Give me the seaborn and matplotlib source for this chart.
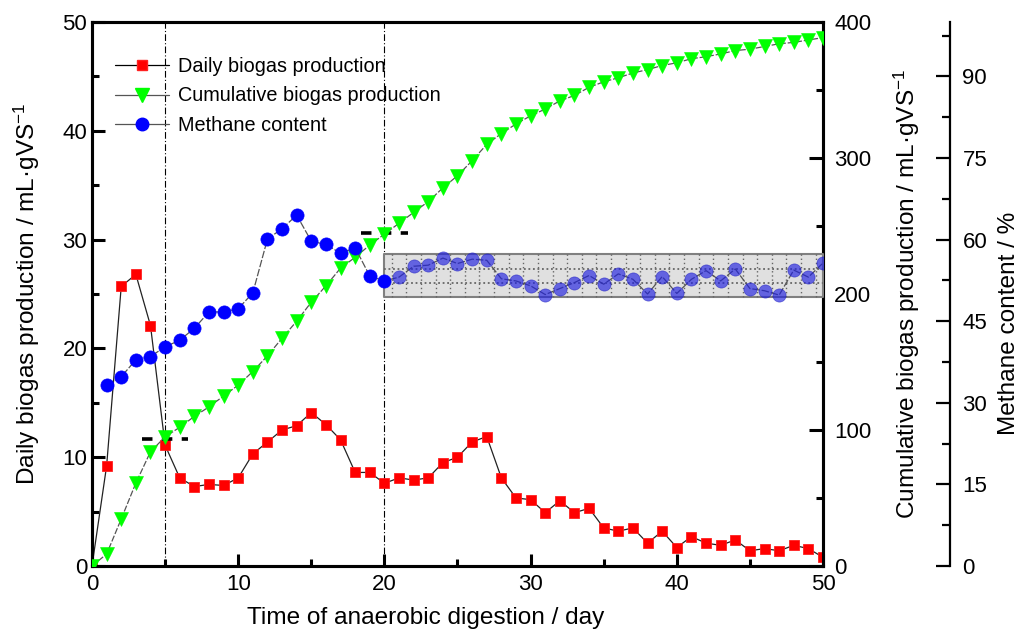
import numpy as np
import pandas as pd
import matplotlib
matplotlib.use("Agg")
import matplotlib.pyplot as plt
from matplotlib.lines import Line2D
from matplotlib.ticker import MultipleLocator, FixedLocator
import seaborn as sns

# ---------------- data ----------------
days = list(range(0, 51))
daily = [0, 9.2, 25.7, 26.8, 22.1, 11.1, 8.1, 7.3, 7.5, 7.4,
         8.1, 10.3, 11.4, 12.5, 12.9, 14.1, 13.0, 11.6, 8.6, 8.6,
         7.6, 8.1, 7.9, 8.1, 9.5, 10.0, 11.4, 11.9, 8.1, 6.25,
         6.1, 4.9, 6.0, 4.9, 5.3, 3.5, 3.2, 3.5, 2.1, 3.2,
         1.7, 2.7, 2.1, 1.9, 2.4, 1.4, 1.6, 1.4, 1.9, 1.6, 0.8]
cumulative = [0, 8.8, 34.6, 61, 84, 95, 102, 110, 117, 125,
              133, 143, 154.5, 167.5, 180, 194, 206, 219, 227, 236,
              244, 252, 260, 268, 278, 287, 298, 310, 318, 325,
              331, 336, 342, 346, 352, 356, 359, 362.5, 365, 368,
              370, 373, 374.5, 376.5, 379, 380, 382, 384, 385, 386.8, 388.5]
methane_days = list(range(1, 51))
methane = [33.3, 34.8, 37.9, 38.5, 40.3, 41.5, 43.7, 46.7, 46.7, 47.3,
           50.2, 60.1, 62.0, 64.5, 59.7, 59.1, 57.5, 58.5, 53.3, 52.4,
           53.1, 55.1, 55.3, 56.6, 55.6, 56.4, 56.2, 52.8, 52.4, 51.5,
           49.9, 51.0, 52.1, 53.4, 51.8, 53.7, 52.7, 50.0, 53.2, 50.1,
           52.7, 54.3, 52.4, 54.6, 51.0, 50.6, 49.8, 54.4, 53.1, 55.7]
stable_start, stable_end = 20, 50
band_low, band_high = 49.4, 57.3
phase_days = [5, 20]
phase_marks = [11.7, 30.6]

series_names = ["Daily biogas production", "Cumulative biogas production", "Methane content"]

df_daily = pd.DataFrame({"day": days, "value": daily})
df_cum = pd.DataFrame({"day": days, "value": cumulative})
df_meth = pd.DataFrame({"day": methane_days, "value": methane})
df_meth_a = df_meth[df_meth["day"] <= stable_start]
df_meth_b = df_meth[df_meth["day"] > stable_start]

# ---------------- style ----------------
sns.set_style("ticks")
plt.rcParams["font.family"] = ["Liberation Sans", "DejaVu Sans"]
plt.rcParams["axes.linewidth"] = 2.2
plt.rcParams["mathtext.default"] = "regular"
plt.rcParams["text.color"] = "black"
plt.rcParams["axes.labelcolor"] = "black"
plt.rcParams["xtick.color"] = "black"
plt.rcParams["ytick.color"] = "black"
plt.rcParams["axes.edgecolor"] = "black"

fig = plt.figure(figsize=(10.2, 6.3), dpi=100)
ax = fig.add_axes([92 / 1020, 1 - 566 / 630, 731 / 1020, 544 / 630])
ax2 = ax.twinx()
ax3 = ax.twinx()

TICK_FS = 16
LABEL_FS = 17.6

# phase lines
for d in phase_days:
    ax.axvline(d, color="black", lw=0.8, ls=(0, (6, 2, 1, 2)), zorder=1)

# daily
sns.lineplot(data=df_daily, x="day", y="value", ax=ax, color="#222222", lw=0.9,
             marker="s", markersize=7.5, markerfacecolor="#ff0000",
             markeredgecolor="#ff2020", markeredgewidth=0.6, zorder=3)
for d, m in zip(phase_days, phase_marks):
    ax.hlines(m, d - 1.6, d + 1.6, color="black", lw=2.6, linestyles=(0, (2.9, 2.6)), zorder=5)

# cumulative
sns.lineplot(data=df_cum, x="day", y="value", ax=ax2, color="#555555", lw=0.9,
             ls=(0, (5, 1.5)), marker="v", markersize=9.5, markerfacecolor="#00ff00",
             markeredgecolor="#00ff00", markeredgewidth=0.4, zorder=3)

# stable band
ax3.fill_between([stable_start, stable_end], band_low, band_high,
                 facecolor="#e0e0e0", edgecolor="#808080", lw=1.5, zorder=1)
grid_x = np.arange(stable_start + 0.5, stable_end, 1.0)
ax3.vlines(grid_x, band_low, band_high, colors="#666666", lw=1.0,
           linestyles=(0, (1, 2)), zorder=1.5)
thirds = [band_low + (band_high - band_low) * k / 3 for k in (1, 2)]
ax3.hlines(thirds, stable_start, stable_end, colors="#666666", lw=1.3,
           linestyles=(0, (1, 1.5)), zorder=1.5)

# methane
sns.lineplot(data=df_meth, x="day", y="value", ax=ax3, color="#555555", lw=0.9,
             ls=(0, (6, 1.5)), zorder=3)
sns.scatterplot(data=df_meth_a, x="day", y="value", ax=ax3, color="#0000ff",
                s=90, marker="o", edgecolor="#0000ff", linewidth=0.5, zorder=4)
sns.scatterplot(data=df_meth_b, x="day", y="value", ax=ax3, color="#2020e0",
                s=90, marker="o", alpha=0.65, edgecolor="#2020c0", linewidth=0.5, zorder=4)

# ---------------- axes ----------------
ax.set_xlim(0, 50)
ax.set_ylim(0, 50)
ax2.set_ylim(0, 400)
ax3.set_ylim(0, 100)

ax.xaxis.set_major_locator(MultipleLocator(10))
ax.xaxis.set_minor_locator(MultipleLocator(5))
ax.yaxis.set_major_locator(MultipleLocator(10))
ax.yaxis.set_minor_locator(MultipleLocator(5))
ax.tick_params(axis="both", which="major", direction="in", length=9, width=2.2,
               labelsize=TICK_FS, top=False, right=False)
ax.tick_params(axis="both", which="minor", direction="in", length=5, width=2.2,
               top=False, right=False)
ax.tick_params(axis="x", pad=6)

ax2.yaxis.set_major_locator(MultipleLocator(100))
ax2.yaxis.set_minor_locator(MultipleLocator(50))
ax2.tick_params(axis="y", which="major", direction="in", length=10, width=2.2,
                labelsize=TICK_FS, pad=8)
ax2.tick_params(axis="y", which="minor", direction="in", length=5, width=2.2)

ax3.spines["right"].set_position(("axes", (950 - 92) / 731))
ax3.spines["right"].set_linewidth(1.6)
for s in ("left", "top", "bottom"):
    ax3.spines[s].set_visible(False)
ax3.yaxis.set_major_locator(FixedLocator(np.arange(0, 91, 15)))
ax3.yaxis.set_minor_locator(FixedLocator(np.arange(7.5, 100, 15)))
ax3.tick_params(axis="y", which="major", direction="in", length=10, width=1.6,
                labelsize=TICK_FS, pad=9)
ax3.tick_params(axis="y", which="minor", direction="in", length=6, width=1.6)

for a in (ax, ax2, ax3):
    a.set_xlabel("")
    a.set_ylabel("")

ax.set_xlabel("Time of anaerobic digestion / day", fontsize=LABEL_FS)
ax.xaxis.set_label_coords((426 - 92) / 731, -0.076)
ax.set_ylabel("Daily biogas production / mL·gVS$^{-1}$", fontsize=LABEL_FS)
ax.yaxis.set_label_coords(-0.068, 0.5)
ax2.set_ylabel("Cumulative biogas production / mL·gVS$^{-1}$", fontsize=LABEL_FS)
ax2.yaxis.set_label_coords((892 - 92) / 731, 0.5)
ax3.set_ylabel("Methane content / %", fontsize=LABEL_FS)
ax3.yaxis.set_label_coords((998 - 92) / 731, (566 - 323) / 544)

# legend
handles = [
    Line2D([], [], color="black", lw=0.9, marker="s", markersize=7.5,
           markerfacecolor="#ff0000", markeredgecolor="#ff2020"),
    Line2D([], [], color="#555555", lw=0.9, marker="v", markersize=9.5,
           markerfacecolor="#00ff00", markeredgecolor="#00ff00"),
    Line2D([], [], color="#555555", lw=0.9, marker="o", markersize=9,
           markerfacecolor="#0000ff", markeredgecolor="#0000ff"),
]
leg = ax3.legend(handles, series_names, loc="upper left", bbox_to_anchor=(0.02, 0.95),
                 frameon=False, fontsize=14.3, handlelength=2.75, handletextpad=0.45,
                 labelspacing=0.52, borderaxespad=0)
leg.set_zorder(10)

fig.savefig("out.png", dpi=100)
